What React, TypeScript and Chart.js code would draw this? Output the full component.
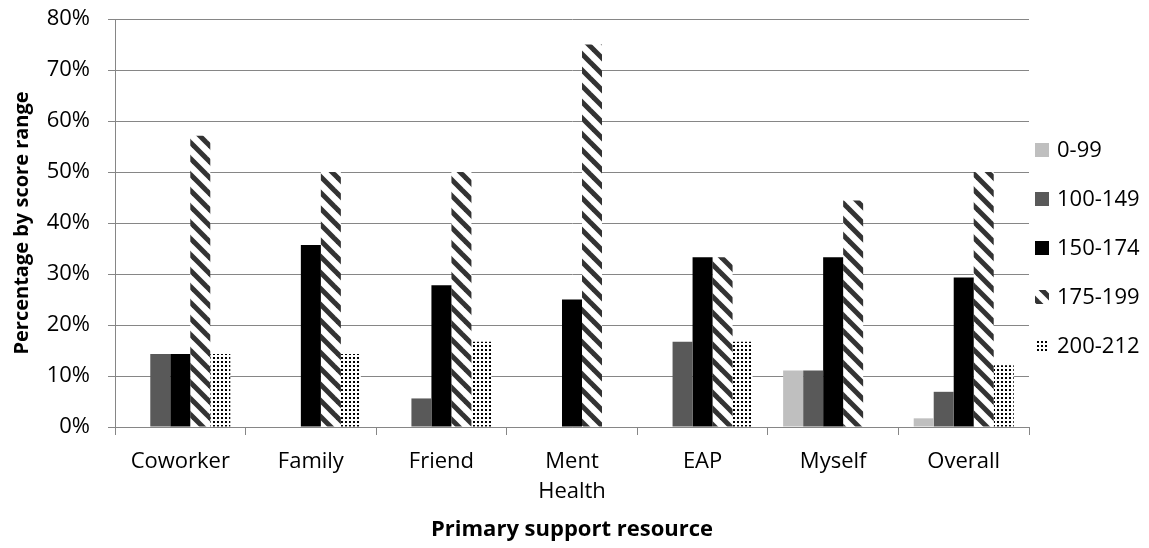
import React, { useEffect, useRef } from "react";
import { Chart, registerables } from "chart.js";

Chart.register(...registerables);

const categories: (string | string[])[] = ["Coworker", "Family", "Friend", ["Ment", "Health"], "EAP", "Myself", "Overall"];
const seriesNames = ["0-99", "100-149", "150-174", "175-199", "200-212"];
const s0_99 = [0, 0, 0, 0, 0, 11.1, 1.7];
const s100_149 = [14.3, 0, 5.6, 0, 16.7, 11.1, 6.9];
const s150_174 = [14.3, 35.7, 27.8, 25, 33.3, 33.3, 29.3];
const s175_199 = [57.1, 50, 50, 75, 33.3, 44.4, 50];
const s200_212 = [14.3, 14.3, 16.7, 0, 16.7, 0, 12.1];
const yTicks = [0, 10, 20, 30, 40, 50, 60, 70, 80];

const FONT = "'Open Sans', 'Noto Sans', sans-serif";

function stripePattern(ctx: CanvasRenderingContext2D): CanvasPattern | string {
  const c = document.createElement("canvas");
  c.width = 16;
  c.height = 16;
  const g = c.getContext("2d")!;
  g.fillStyle = "#ffffff";
  g.fillRect(0, 0, 16, 16);
  g.strokeStyle = "#333333";
  g.lineWidth = 5;
  for (const off of [-16, 0, 16]) {
    g.beginPath();
    g.moveTo(off - 2, -2);
    g.lineTo(off + 18, 18);
    g.stroke();
  }
  return ctx.createPattern(c, "repeat") || "#333";
}

function dotPattern(ctx: CanvasRenderingContext2D): CanvasPattern | string {
  const c = document.createElement("canvas");
  c.width = 4;
  c.height = 4;
  const g = c.getContext("2d")!;
  g.fillStyle = "#ffffff";
  g.fillRect(0, 0, 4, 4);
  g.fillStyle = "#000000";
  g.fillRect(1, 1, 2, 2);
  return ctx.createPattern(c, "repeat") || "#000";
}

const customLegend = {
  id: "customLegend",
  afterDraw(chart: any) {
    const ctx = chart.ctx as CanvasRenderingContext2D;
    const ds = chart.data.datasets;
    const area = chart.chartArea;
    const spacing = 49;
    const n = ds.length;
    const centerY = 248;
    const startY = centerY - ((n - 1) * spacing) / 2;
    const boxX = area.right + 6;
    const box = 14;
    ctx.save();
    ctx.font = `22px ${FONT}`;
    ctx.textBaseline = "middle";
    ctx.textAlign = "left";
    ds.forEach((d: any, i: number) => {
      const y = startY + i * spacing;
      ctx.fillStyle = d.backgroundColor;
      ctx.fillRect(boxX, y - box / 2, box, box);
      ctx.fillStyle = "#000";
      ctx.fillText(d.label, boxX + 22, y + 1);
    });
    ctx.restore();
  },
};

export default function App() {
  const ref = useRef<HTMLCanvasElement>(null);
  useEffect(() => {
    document.body.style.margin = "0";
    const canvas = ref.current!;
    const ctx = canvas.getContext("2d")!;
    const stripes = stripePattern(ctx);
    const dots = dotPattern(ctx);
    const grid = "#868686";
    const chart = new Chart(canvas, {
      type: "bar",
      data: {
        labels: categories,
        datasets: [
          { label: seriesNames[0], data: s0_99, backgroundColor: "#bfbfbf" },
          { label: seriesNames[1], data: s100_149, backgroundColor: "#595959" },
          { label: seriesNames[2], data: s150_174, backgroundColor: "#000000" },
          { label: seriesNames[3], data: s175_199, backgroundColor: stripes as any },
          { label: seriesNames[4], data: s200_212, backgroundColor: dots as any },
        ],
      },
      options: {
        animation: false,
        responsive: false,
        devicePixelRatio: 1,
        layout: { padding: { top: 19, right: 120, left: 0, bottom: 0 } },
        datasets: { bar: { categoryPercentage: 0.766, barPercentage: 1 } } as any,
        plugins: {
          tooltip: { enabled: false },
          legend: { display: false },
        },
        scales: {
          x: {
            grid: { drawOnChartArea: false, drawTicks: true, tickLength: 8, color: grid },
            border: { color: grid },
            ticks: { color: "#000", font: { family: FONT, size: 22, lineHeight: 1.35 }, padding: 12, maxRotation: 0, autoSkip: false },
            title: {
              display: true,
              text: "Primary support resource",
              color: "#000",
              font: { family: FONT, size: 22, weight: "bold" },
              padding: { top: 0, bottom: 5 },
            },
            afterFit: (s: any) => { s.height = 121; s.paddingLeft = 0; s.paddingRight = 0; },
          },
          y: {
            min: 0,
            max: 80,
            afterBuildTicks: (s: any) => { s.ticks = yTicks.map((v) => ({ value: v })); },
            grid: { color: grid, tickLength: 7 },
            border: { color: grid },
            ticks: { color: "#000", font: { family: FONT, size: 22 }, padding: 18, callback: (v: any) => v + "%" },
            title: {
              display: true,
              text: "Percentage by score range",
              color: "#000",
              font: { family: FONT, size: 20, weight: "bold" },
              padding: { top: 10, bottom: 0 },
            },
            afterFit: (s: any) => { s.width = 115; s.paddingTop = 0; s.paddingBottom = 0; },
          },
        },
      } as any,
      plugins: [customLegend],
    });
    return () => chart.destroy();
  }, []);
  return <canvas ref={ref} width={1149} height={548} style={{ display: "block" }} />;
}
